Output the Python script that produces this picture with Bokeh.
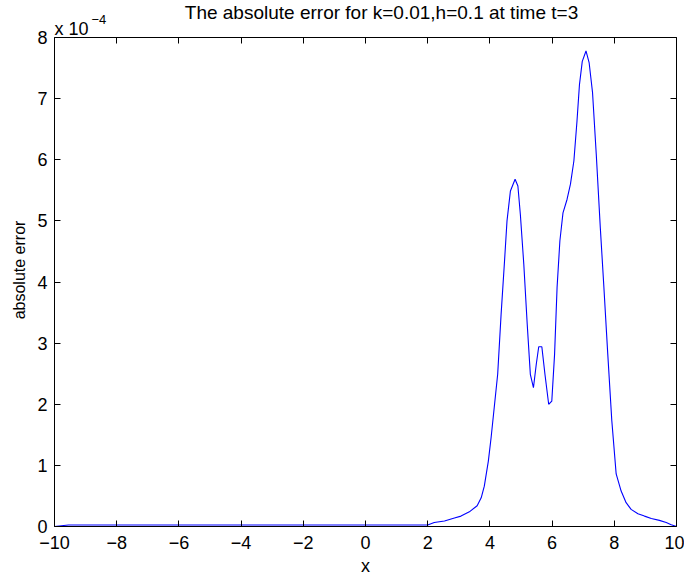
import math
from bokeh.plotting import figure
from bokeh.models import LinearAxis, Label, FixedTicker, Range1d
from bokeh.embed import file_html
from bokeh.resources import INLINE

# x positions and absolute error (in units of 1e-4)
x_vals = [-10.0, -9.55, 2.0, 2.21, 2.54, 2.86, 3.07, 3.34, 3.59, 3.72, 3.82, 3.95,
          4.04, 4.14, 4.25, 4.36, 4.47, 4.55, 4.66, 4.81, 4.90, 4.98, 5.09, 5.20,
          5.30, 5.40, 5.49, 5.57, 5.67, 5.77, 5.89, 5.99, 6.08, 6.16, 6.25, 6.35,
          6.48, 6.59, 6.70, 6.80, 6.88, 6.97, 7.09, 7.19, 7.30, 7.42, 7.55, 7.66,
          7.79, 7.92, 8.06, 8.22, 8.38, 8.54, 8.76, 8.97, 9.19, 9.45, 9.67, 9.83, 10.0]
err_e4 = [0.0, 0.025, 0.025, 0.065, 0.09, 0.14, 0.17, 0.24, 0.34, 0.47, 0.66, 1.07,
          1.46, 1.95, 2.49, 3.47, 4.34, 5.00, 5.49, 5.68, 5.57, 5.10, 4.29, 3.31,
          2.49, 2.27, 2.65, 2.94, 2.94, 2.49, 2.00, 2.05, 2.82, 3.91, 4.67, 5.13,
          5.35, 5.60, 5.98, 6.63, 7.23, 7.61, 7.78, 7.59, 7.10, 6.09, 4.89, 3.96,
          2.82, 1.73, 0.86, 0.58, 0.39, 0.28, 0.21, 0.17, 0.13, 0.10, 0.065, 0.03, 0.0]

x_ticks = [-10, -8, -6, -4, -2, 0, 2, 4, 6, 8, 10]
x_tick_labels = ["\u221210", "\u22128", "\u22126", "\u22124", "\u22122", "0", "2", "4", "6", "8", "10"]
y_ticks = [0, 1, 2, 3, 4, 5, 6, 7, 8]
y_tick_labels = ["0", "1", "2", "3", "4", "5", "6", "7", "8"]
x_lim = (-10, 10)
y_lim = (0, 8)

title_text = "The absolute error for k=0.01,h=0.1 at time t=3"
x_label = "x"
y_label = "absolute error"
exp_base = "x 10"
exp_power = "\u22124"

FONT = "Liberation Sans"
TICK_SIZE = "18px"

# canvas layout (pixels): axes box inside a frame covering the whole canvas
W, H = 684, 576
BOX_L, BOX_R, BOX_T, BOX_B = 54, 676, 37, 526
sx = (BOX_R - BOX_L) / (x_lim[1] - x_lim[0])
sy = (BOX_B - BOX_T) / (y_lim[1] - y_lim[0])
xr = Range1d(x_lim[0] - BOX_L / sx, x_lim[1] + (W - BOX_R) / sx)
yr = Range1d(y_lim[0] - (H - BOX_B) / sy, y_lim[1] + BOX_T / sy)

p = figure(width=W, height=H, output_backend="svg", toolbar_location=None,
           x_range=xr, y_range=yr,
           min_border_left=0, min_border_right=0, min_border_top=0, min_border_bottom=0)
p.outline_line_color = None
p.grid.visible = False
p.background_fill_color = "white"
p.border_fill_color = "white"

p.line(x_vals, err_e4, line_color="#0000ff", line_width=1.1)

def style(ax, ticks, labels, bounds, loc, show_labels=True):
    ax.fixed_location = loc
    ax.bounds = bounds
    ax.ticker = FixedTicker(ticks=ticks)
    ax.major_tick_in = 6
    ax.major_tick_out = 0
    ax.minor_tick_line_color = None
    ax.axis_line_color = "black"
    ax.major_tick_line_color = "black"
    ax.major_label_text_font = FONT
    ax.major_label_text_color = "black"
    if show_labels:
        ax.major_label_overrides = {t: l for t, l in zip(ticks, labels)}
        ax.major_label_text_font_size = TICK_SIZE
    else:
        ax.major_label_overrides = {t: "" for t in ticks}
        ax.major_label_text_font_size = "1px"
        ax.major_label_standoff = 0

style(p.xaxis[0], x_ticks, x_tick_labels, x_lim, y_lim[0])
style(p.yaxis[0], y_ticks, y_tick_labels, y_lim, x_lim[0])
p.xaxis[0].major_label_standoff = 9
p.yaxis[0].major_label_standoff = 7

top = LinearAxis()
p.add_layout(top, "above")
style(top, x_ticks, x_tick_labels, x_lim, y_lim[1], show_labels=False)
right = LinearAxis()
p.add_layout(right, "right")
style(right, y_ticks, y_tick_labels, y_lim, x_lim[1], show_labels=False)

def lab(**kw):
    p.add_layout(Label(text_font=FONT, text_color="black", **kw))

# axis labels
lab(x=0, y=y_lim[0], y_offset=-39, text=x_label, text_font_size="18px",
    text_align="center", text_baseline="middle")
lab(x=x_lim[0], y=(y_lim[0] + y_lim[1]) / 2, x_offset=-35, y_offset=12, text=y_label,
    text_font_size="16px", text_align="center", text_baseline="middle", angle=math.pi / 2)
# title
lab(x=0, y=y_lim[1], x_offset=16, y_offset=25, text=title_text,
    text_font_size="19px", text_align="center", text_baseline="middle")
# exponent
lab(x=x_lim[0], y=y_lim[1], x_offset=0, y_offset=9, text=exp_base,
    text_font_size="18px", text_align="left", text_baseline="alphabetic")
lab(x=x_lim[0], y=y_lim[1], x_offset=37, y_offset=18, text=exp_power,
    text_font_size="13px", text_align="left", text_baseline="alphabetic")

open("out.html", "w").write(file_html(p, INLINE))
